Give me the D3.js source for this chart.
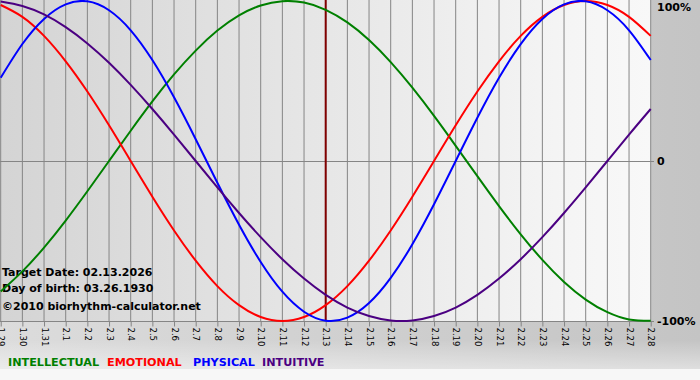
<!DOCTYPE html>
<html>
<head>
<meta charset="utf-8">
<script src="https://cdn.jsdelivr.net/npm/d3@7"></script>
<style>
  body { margin: 0; background: #fff; }
  svg { display: block; }
</style>
</head>
<body>
<div id="chart"></div>
<script>
// days shown on the x axis
const dates = ["1.29", "1.30", "1.31", "2.1", "2.2", "2.3", "2.4", "2.5", "2.6", "2.7",
  "2.8", "2.9", "2.10", "2.11", "2.12", "2.13", "2.14", "2.15", "2.16", "2.17",
  "2.18", "2.19", "2.20", "2.21", "2.22", "2.23", "2.24", "2.25", "2.26", "2.27", "2.28"];

// cycle values per day, -1 .. 1
const intellectual = [-0.815, -0.690, -0.541, -0.372, -0.189, 0, 0.189, 0.372, 0.541, 0.690,
  0.815, 0.910, 0.972, 0.999, 0.990, 0.945, 0.866, 0.756, 0.618, 0.458,
  0.282, 0.095, -0.095, -0.282, -0.458, -0.618, -0.756, -0.866, -0.945, -0.990, -0.999];
const emotional = [0.975, 0.901, 0.782, 0.623, 0.434, 0.223, 0, -0.223, -0.434, -0.623,
  -0.782, -0.901, -0.975, -1.000, -0.975, -0.901, -0.782, -0.623, -0.434, -0.223,
  0, 0.223, 0.434, 0.623, 0.782, 0.901, 0.975, 1.000, 0.975, 0.901, 0.782];
const physical = [0.520, 0.731, 0.888, 0.979, 0.998, 0.942, 0.817, 0.631, 0.398, 0.136,
  -0.136, -0.398, -0.631, -0.817, -0.942, -0.998, -0.979, -0.888, -0.731, -0.520,
  -0.270, 0, 0.270, 0.520, 0.731, 0.888, 0.979, 0.998, 0.942, 0.817, 0.631];
const intuitive = [0.997, 0.969, 0.916, 0.837, 0.735, 0.614, 0.476, 0.325, 0.165, 0,
  -0.165, -0.325, -0.476, -0.614, -0.735, -0.837, -0.916, -0.969, -0.997, -0.997,
  -0.969, -0.916, -0.837, -0.735, -0.614, -0.476, -0.325, -0.165, 0, 0.165, 0.325];

const yTicks = [1, 0, -1];
const yTickLabels = ["100%", "0", "-100%"];
const targetDay = "2.13";
const infoLines = ["Target Date: 02.13.2026", "Day of birth: 03.26.1930", "\u00a92010 biorhythm-calculator.net"];

const series = [
  { name: "INTELLECTUAL", values: intellectual, color: "#008000" },
  { name: "EMOTIONAL", values: emotional, color: "#ff0000" },
  { name: "PHYSICAL", values: physical, color: "#0000ff" },
  { name: "INTUITIVE", values: intuitive, color: "#4b0082" }
];

const W = 700, H = 380;
const plot = { left: 0, right: 651, top: 1, bottom: 321 };

const svg = d3.select("#chart").append("svg")
  .attr("width", W)
  .attr("height", H)
  .style("font-family", "'DejaVu Sans', Verdana, sans-serif");

const defs = svg.append("defs");
const outerGrad = defs.append("linearGradient").attr("id", "outerGrad");
outerGrad.append("stop").attr("offset", "0%").attr("stop-color", "#dcdcdc");
outerGrad.append("stop").attr("offset", "100%").attr("stop-color", "#c4c4c4");
const plotGrad = defs.append("linearGradient").attr("id", "plotGrad");
plotGrad.append("stop").attr("offset", "0%").attr("stop-color", "#d4d4d4");
plotGrad.append("stop").attr("offset", "88%").attr("stop-color", "#f5f5f5");
plotGrad.append("stop").attr("offset", "100%").attr("stop-color", "#f8f8f8");
const bottomGrad = defs.append("linearGradient").attr("id", "bottomGrad")
  .attr("x1", 0).attr("x2", 0).attr("y1", 0).attr("y2", 1);
bottomGrad.append("stop").attr("offset", "0%").attr("stop-color", "#ffffff").attr("stop-opacity", 0);
bottomGrad.append("stop").attr("offset", "100%").attr("stop-color", "#ffffff").attr("stop-opacity", 0.45);

svg.append("rect").attr("width", W).attr("height", H).attr("fill", "url(#outerGrad)");
svg.append("rect").attr("y", 340).attr("width", W).attr("height", 29).attr("fill", "url(#bottomGrad)");
svg.append("rect").attr("y", 369).attr("width", W).attr("height", H - 369).attr("fill", "#f7f7f7");
svg.append("rect")
  .attr("x", plot.left).attr("y", 0)
  .attr("width", plot.right - plot.left).attr("height", plot.bottom)
  .attr("fill", "url(#plotGrad)");

const x = d3.scalePoint().domain(dates).range([0.7, 650.7]);
const y = d3.scaleLinear().domain([-1, 1]).range([plot.bottom, plot.top]);

// vertical grid
svg.append("g").selectAll("line").data(dates).join("line")
  .attr("x1", d => x(d)).attr("x2", d => x(d))
  .attr("y1", 0).attr("y2", plot.bottom)
  .attr("stroke", "#858585").attr("stroke-width", 1);

// zero + bottom lines
svg.append("g").selectAll("line").data([0, -1]).join("line")
  .attr("x1", 0).attr("x2", plot.right + 3)
  .attr("y1", d => Math.round(y(d)) + 0.5).attr("y2", d => Math.round(y(d)) + 0.5)
  .attr("stroke", "#858585");

// x axis
const xAxis = svg.append("g")
  .attr("transform", `translate(0,${plot.bottom + 0.5})`)
  .call(d3.axisBottom(x).tickSize(5).tickSizeOuter(0));
xAxis.select(".domain").remove();
xAxis.selectAll(".tick line").attr("stroke", "#858585");
xAxis.selectAll(".tick text")
  .attr("transform", "rotate(90)")
  .attr("text-anchor", "start")
  .attr("x", 6).attr("y", 0).attr("dy", "0.35em")
  .attr("fill", "#000")
  .style("font-size", "8.5px")
  .style("font-family", "'DejaVu Sans', Verdana, sans-serif");

// y axis labels on the right
const yAxis = svg.append("g")
  .attr("transform", `translate(${plot.right},0)`)
  .call(d3.axisRight(y).tickValues(yTicks).tickSize(0).tickPadding(6)
    .tickFormat((d, i) => yTickLabels[i]));
yAxis.select(".domain").remove();
yAxis.selectAll(".tick text")
  .attr("fill", "#000")
  .style("font-size", "11px")
  .style("font-weight", "bold")
  .style("font-family", "'DejaVu Sans', Verdana, sans-serif");
yAxis.selectAll(".tick").filter(d => d === 1).select("text").attr("dy", "0.9em");

// target day line
svg.append("line")
  .attr("x1", x(targetDay)).attr("x2", x(targetDay))
  .attr("y1", 0).attr("y2", plot.bottom)
  .attr("stroke", "#800000").attr("stroke-width", 2);

// info text
const infoY = [276, 292, 310];
svg.append("g").selectAll("text").data(infoLines).join("text")
  .attr("x", 2).attr("y", (d, i) => infoY[i])
  .attr("font-size", "11px").attr("font-weight", "bold")
  .attr("fill", "#000")
  .text(d => d);

// curves
const line = d3.line()
  .x((d, i) => x(dates[i]))
  .y(d => y(d))
  .curve(d3.curveNatural);

svg.append("g").selectAll("path").data(series).join("path")
  .attr("d", d => line(d.values))
  .attr("fill", "none")
  .attr("stroke", d => d.color)
  .attr("stroke-width", 2);

// legend
const legend = svg.append("g").attr("font-size", "11.2px").attr("font-weight", "bold");
const legendX = [8, 107, 193, 262];
legend.selectAll("text").data(series).join("text")
  .attr("x", (d, i) => legendX[i]).attr("y", 366)
  .attr("fill", d => d.color)
  .text(d => d.name);
</script>
</body>
</html>
